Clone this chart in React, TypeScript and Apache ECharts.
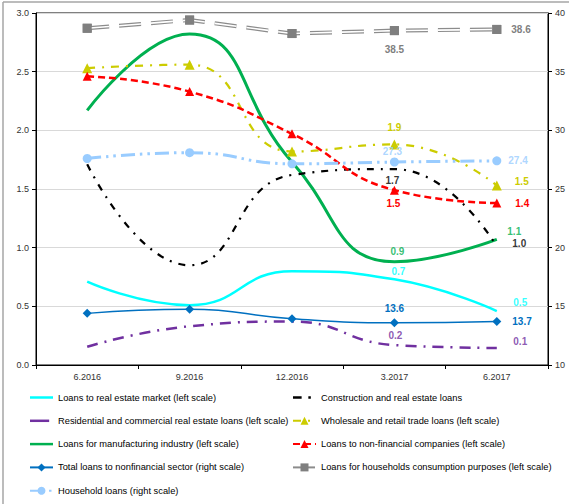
import React, { useEffect, useRef } from "react";
import * as echarts from "echarts";

const categories = ["6.2016", "9.2016", "12.2016", "3.2017", "6.2017"];
const leftTicks = [0, 0.5, 1, 1.5, 2, 2.5, 3];
const rightTicks = [10, 15, 20, 25, 30, 35, 40];

const realEstateMarket = [0.71, 0.51, 0.8, 0.73, 0.46];
const residentialCommercial = [0.155, 0.33, 0.37, 0.17, 0.145];
const manufacturing = [2.17, 2.82, 1.73, 0.88, 1.07];
const totalNonfinancial = [14.4, 14.75, 13.95, 13.6, 13.7];
const householdLoans = [27.6, 28.1, 27.15, 27.3, 27.4];
const construction = [1.71, 0.85, 1.62, 1.67, 1.01];
const wholesale = [2.53, 2.56, 1.82, 1.88, 1.53];
const nonFinancialCompanies = [2.46, 2.33, 1.97, 1.49, 1.38];
const householdConsumption = [38.7, 39.4, 38.25, 38.5, 38.6];

const names = {
  realEstate: "Loans to real estate market (left scale)",
  residential: "Residential and commercial real estate loans (left scale)",
  manufacturing: "Loans for manufacturing industry (left scale)",
  total: "Total loans to nonfinancial sector (right scale)",
  household: "Household loans (right scale)",
  construction: "Construction and real estate loans",
  wholesale: "Wholesale and retail trade loans (left scale)",
  nonFin: "Loans to non-financial companies (left scale)",
  consumption: "Loans for households consumption purposes (left scale)",
};

const FONT = "'Liberation Sans', Arial, sans-serif";

type Lab = { position: string; distance: number; offset?: number[] };

function mk(arr: number[], color: string, labs: Lab[] | null) {
  return arr.map((v, i) => {
    if (!labs || i < 3) return v;
    const l = labs[i - 3];
    return {
      value: v,
      label: {
        show: true,
        position: l.position,
        distance: l.distance,
        offset: l.offset || [0, 0],
        color,
        fontFamily: FONT,
        fontWeight: "bold",
        fontSize: 10,
        formatter: (p: any) => Number(p.value).toFixed(1),
      },
    };
  });
}

// invisible carrier for the data labels of lines drawn without markers
function labelCarrier(name: string, arr: number[], color: string, labs: Lab[], yAxisIndex: number, z = 6) {
  return {
    name,
    type: "scatter",
    yAxisIndex,
    symbol: "circle",
    symbolSize: 1,
    itemStyle: { color: "rgba(0,0,0,0)" },
    data: mk(arr, color, labs),
    z,
    silent: true,
  };
}

const solidIcon = "path://M0,0 L24,0 L24,2.6 L0,2.6 Z";
const shortIcon = "path://M0,0 L20,0 L20,2.6 L0,2.6 Z M24,1.3 L24,1.3";
const dashDotIcon = "path://M0,0 L9,0 L9,2.6 L0,2.6 Z M16,0 L18.6,0 L18.6,2.6 L16,2.6 Z M24,1.3 L24,1.3";

export default function App() {
  const ref = useRef<HTMLDivElement>(null);
  useEffect(() => {
    if (!ref.current) return;
    const chart = echarts.init(ref.current, undefined, { renderer: "svg" });
    const cyan = "#00ffff";
    const purple = "#7030a0";
    const green = "#00b050";
    const blue = "#0070c0";
    const lightBlue = "#99ccff";
    const black = "#000000";
    const yellow = "#cccc00";
    const red = "#ff0000";
    const gray = "#7f7f7f";

    const cyanLabs: Lab[] = [
      { position: "top", distance: 2.5, offset: [4, 0] },
      { position: "right", distance: 16, offset: [0, -9] },
    ];
    const purpleLabs: Lab[] = [
      { position: "top", distance: 4.5, offset: [1, 0] },
      { position: "right", distance: 16, offset: [0, -6] },
    ];
    const greenLabs: Lab[] = [
      { position: "top", distance: 5, offset: [3, 0] },
      { position: "right", distance: 10, offset: [0, -8] },
    ];
    const blackLabs: Lab[] = [
      { position: "bottom", distance: 5.5, offset: [-2, 0] },
      { position: "right", distance: 15, offset: [0, -3] },
    ];
    const lightBlueLabs: Lab[] = [
      { position: "top", distance: 5.5, offset: [-2, 0] },
      { position: "right", distance: 11 },
    ];

    const legendText = { fontFamily: FONT, fontSize: 9.3, color: "#000" };

    const option: any = {
      animation: false,
      backgroundColor: "#ffffff",
      textStyle: { fontFamily: FONT },
      grid: {
        left: 36,
        right: 21,
        top: 13,
        bottom: 139,
        show: true,
        borderColor: "#000",
        borderWidth: 1,
      },
      graphic: [
        { type: "line", shape: { x1: 3, y1: 2, x2: 569, y2: 2 }, style: { stroke: "#a6a6a6", lineWidth: 1.5 } },
        { type: "line", shape: { x1: 3, y1: 2, x2: 3, y2: 504 }, style: { stroke: "#a6a6a6", lineWidth: 1.5 } },
      ],
      legend: [
        {
          orient: "vertical",
          left: 29,
          top: 393,
          padding: 0,
          itemWidth: 23,
          itemHeight: 10,
          itemGap: 14.3,
          textStyle: legendText,
          data: [
            { name: names.realEstate, icon: solidIcon },
            { name: names.residential, icon: shortIcon },
            { name: names.manufacturing, icon: solidIcon },
            names.total,
            names.household,
          ],
        },
        {
          orient: "vertical",
          left: 292,
          top: 393,
          padding: 0,
          itemWidth: 23,
          itemHeight: 10,
          itemGap: 14.3,
          textStyle: legendText,
          data: [
            { name: names.construction, icon: dashDotIcon },
            names.wholesale,
            names.nonFin,
            names.consumption,
          ],
        },
      ],
      xAxis: {
        type: "category",
        data: categories,
        boundaryGap: true,
        axisLine: { lineStyle: { color: "#000", width: 1 } },
        axisTick: { show: true, length: 4, lineStyle: { color: "#000" } },
        axisLabel: { color: "#333", fontSize: 9, fontFamily: FONT, margin: 7 },
      },
      yAxis: [
        {
          type: "value",
          min: leftTicks[0],
          max: leftTicks[leftTicks.length - 1],
          interval: 0.5,
          position: "left",
          axisLine: { show: true, lineStyle: { color: "#000" } },
          axisTick: { show: true, length: 4, lineStyle: { color: "#000" } },
          axisLabel: {
            color: "#333",
            fontSize: 9,
            fontFamily: FONT,
            margin: 7,
            formatter: (v: number) => v.toFixed(1),
          },
          splitLine: { show: true, lineStyle: { color: "#d9d9d9", width: 1 } },
        },
        {
          type: "value",
          min: rightTicks[0],
          max: rightTicks[rightTicks.length - 1],
          interval: 5,
          position: "right",
          axisLine: { show: true, lineStyle: { color: "#000" } },
          axisTick: { show: true, length: 4, lineStyle: { color: "#000" } },
          axisLabel: { color: "#333", fontSize: 9, fontFamily: FONT, margin: 7 },
          splitLine: { show: false },
        },
      ],
      series: [
        {
          name: names.realEstate,
          type: "line",
          yAxisIndex: 0,
          smooth: true,
          symbol: "none",
          color: cyan,
          lineStyle: { color: cyan, width: 2.5 },
          data: realEstateMarket,
          z: 3,
        },
        labelCarrier("lbl-realEstate", realEstateMarket, cyan, cyanLabs, 0),
        {
          name: names.residential,
          type: "line",
          yAxisIndex: 0,
          smooth: true,
          symbol: "none",
          color: purple,
          lineStyle: { color: purple, width: 2.5, type: [11, 7, 2, 7] },
          data: residentialCommercial,
          z: 3,
        },
        labelCarrier("lbl-residential", residentialCommercial, purple, purpleLabs, 0),
        {
          name: names.manufacturing,
          type: "line",
          yAxisIndex: 0,
          smooth: true,
          symbol: "none",
          color: green,
          lineStyle: { color: green, width: 3 },
          data: manufacturing,
          z: 3,
        },
        labelCarrier("lbl-manufacturing", manufacturing, green, greenLabs, 0),
        {
          name: names.total,
          type: "line",
          yAxisIndex: 1,
          smooth: true,
          symbol: "diamond",
          symbolSize: 9,
          color: blue,
          itemStyle: { color: blue },
          lineStyle: { color: blue, width: 1.5 },
          data: mk(totalNonfinancial, blue, [
            { position: "top", distance: 5 },
            { position: "right", distance: 11 },
          ]),
          z: 4,
        },
        {
          name: names.household,
          type: "line",
          yAxisIndex: 1,
          smooth: true,
          symbol: "circle",
          symbolSize: 9,
          color: lightBlue,
          itemStyle: { color: lightBlue },
          lineStyle: { color: lightBlue, width: 3, type: [14, 5, 2.5, 5, 2.5, 5] },
          data: householdLoans,
          z: 4,
        },
        labelCarrier("lbl-household", householdLoans, lightBlue, lightBlueLabs, 1, 8),
        {
          name: names.construction,
          type: "line",
          yAxisIndex: 0,
          smooth: true,
          symbol: "none",
          color: black,
          lineStyle: { color: black, width: 2.2, type: [7, 7, 2, 7] },
          data: construction,
          z: 3,
        },
        labelCarrier("lbl-construction", construction, black, blackLabs, 0),
        {
          name: names.wholesale,
          type: "line",
          yAxisIndex: 0,
          smooth: true,
          symbol: "triangle",
          symbolSize: 10,
          color: yellow,
          itemStyle: { color: yellow },
          lineStyle: { color: yellow, width: 2.2, type: [8, 7, 2, 7] },
          data: mk(wholesale, yellow, [
            { position: "top", distance: 7 },
            { position: "right", distance: 13, offset: [0, -4] },
          ]),
          z: 3,
        },
        {
          name: names.nonFin,
          type: "line",
          yAxisIndex: 0,
          smooth: true,
          symbol: "triangle",
          symbolSize: 9,
          color: red,
          itemStyle: { color: red },
          lineStyle: { color: red, width: 2.5, type: [7, 4] },
          data: mk(nonFinancialCompanies, red, [
            { position: "bottom", distance: 4, offset: [-1, 0] },
            { position: "right", distance: 14 },
          ]),
          z: 3,
        },
        {
          name: names.consumption,
          type: "line",
          yAxisIndex: 1,
          smooth: false,
          symbol: "rect",
          symbolSize: 9,
          color: gray,
          itemStyle: { color: gray },
          lineStyle: { color: "#8c8c8c", width: 4, type: [22, 10] },
          data: mk(householdConsumption, gray, [
            { position: "bottom", distance: 9 },
            { position: "right", distance: 10 },
          ]),
          z: 2,
        },
        {
          name: "consumption-inner",
          type: "line",
          yAxisIndex: 1,
          smooth: false,
          symbol: "none",
          lineStyle: { color: "#ffffff", width: 1.6, type: [22, 10] },
          data: householdConsumption,
          z: 2.5,
          silent: true,
        },
        {
          name: "consumption-markers",
          type: "line",
          yAxisIndex: 1,
          smooth: false,
          symbol: "rect",
          symbolSize: 9,
          itemStyle: { color: gray },
          lineStyle: { width: 0, opacity: 0 },
          data: householdConsumption,
          z: 2.8,
          silent: true,
        },
      ],
    };
    chart.setOption(option);
    return () => chart.dispose();
  }, []);
  return (
    <div
      ref={ref}
      style={{ position: "absolute", left: 0, top: 0, width: 569, height: 504, background: "#fff" }}
    />
  );
}
